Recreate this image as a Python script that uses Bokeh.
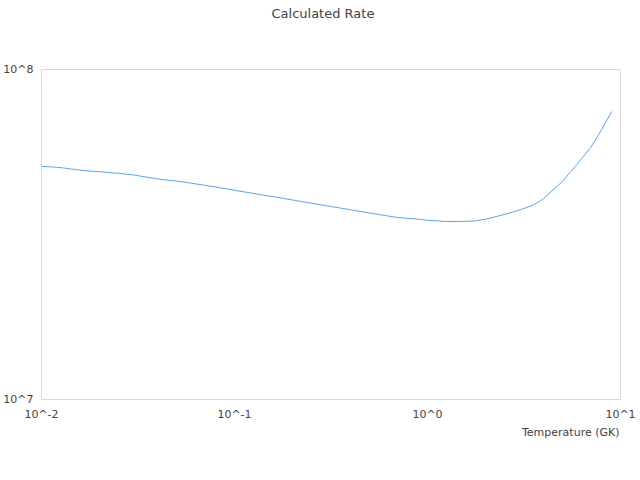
from bokeh.plotting import figure
from bokeh.embed import file_html
from bokeh.resources import INLINE
from bokeh.models import FixedTicker, CustomJSTickFormatter, Title

temperature = [0.01, 0.011, 0.012, 0.013, 0.014, 0.015, 0.016, 0.018, 0.02, 0.025,
               0.03, 0.04, 0.05, 0.06, 0.07, 0.08, 0.09, 0.1, 0.12, 0.14,
               0.16, 0.18, 0.2, 0.25, 0.3, 0.35, 0.4, 0.45, 0.5, 0.6,
               0.7, 0.8, 0.9, 1.0, 1.25, 1.5, 1.75, 2.0, 2.5, 3.0,
               3.5, 4.0, 5.0, 6.0, 7.0, 8.0, 9.0]
rate = [5.083e7, 5.072e7, 5.054e7, 5.030e7, 5.002e7, 4.977e7, 4.953e7, 4.922e7, 4.898e7, 4.848e7,
        4.790e7, 4.659e7, 4.591e7, 4.521e7, 4.459e7, 4.403e7, 4.354e7, 4.305e7, 4.231e7, 4.166e7,
        4.114e7, 4.066e7, 4.023e7, 3.934e7, 3.864e7, 3.807e7, 3.757e7, 3.713e7, 3.675e7, 3.611e7,
        3.561e7, 3.536e7, 3.517e7, 3.491e7, 3.463e7, 3.463e7, 3.475e7, 3.517e7, 3.636e7, 3.752e7,
        3.872e7, 4.066e7, 4.578e7, 5.190e7, 5.801e7, 6.578e7, 7.460e7]

x_ticks = [0.01, 0.1, 1, 10]
y_ticks = [1e7, 1e8]
title_text = "Calculated Rate"
x_label_text = "Temperature (GK)"

FONT = "DejaVu Sans"
TEXT = "#444444"
GRAY = "#d9d9d9"

p = figure(width=640, height=480, output_backend="svg", toolbar_location=None,
           x_axis_type="log", y_axis_type="log",
           x_range=(0.01, 10), y_range=(1e7, 1e8),
           min_border_left=40, min_border_right=20, min_border_top=69, min_border_bottom=81)

p.line(temperature, rate, line_color="#5aa2f5", line_width=1)

p.grid.visible = False
p.outline_line_color = GRAY
p.outline_line_width = 1

fmt = CustomJSTickFormatter(code="return '10^' + Math.round(Math.log10(tick));")

for ax, ticks in ((p.xaxis[0], x_ticks), (p.yaxis[0], y_ticks)):
    ax.ticker = FixedTicker(ticks=ticks, minor_ticks=[])
    ax.formatter = fmt
    ax.major_tick_line_color = None
    ax.minor_tick_line_color = None
    ax.axis_line_color = GRAY
    ax.major_label_text_font = FONT
    ax.major_label_text_font_size = "11px"
    ax.major_label_text_color = TEXT

p.xaxis.major_label_standoff = 2
p.yaxis.major_label_standoff = 2

# blank spacer between the frame and the chart title (pushes the title to the top)
p.add_layout(Title(text=" ", standoff=27, text_font=FONT, text_font_size="12px"), "above")
# chart title at the top of the page
p.add_layout(Title(text=title_text, align="left", offset=230, vertical_align="top",
                   standoff=8, text_font=FONT, text_font_size="13px",
                   text_font_style="normal", text_color=TEXT), "above")
# x-axis title, right-aligned under the frame's right end
p.add_layout(Title(text=x_label_text, align="right", offset=1, vertical_align="top",
                   standoff=4, text_font=FONT, text_font_size="11px",
                   text_font_style="normal", text_color=TEXT), "below")

open("out.html", "w").write(file_html(p, INLINE))
